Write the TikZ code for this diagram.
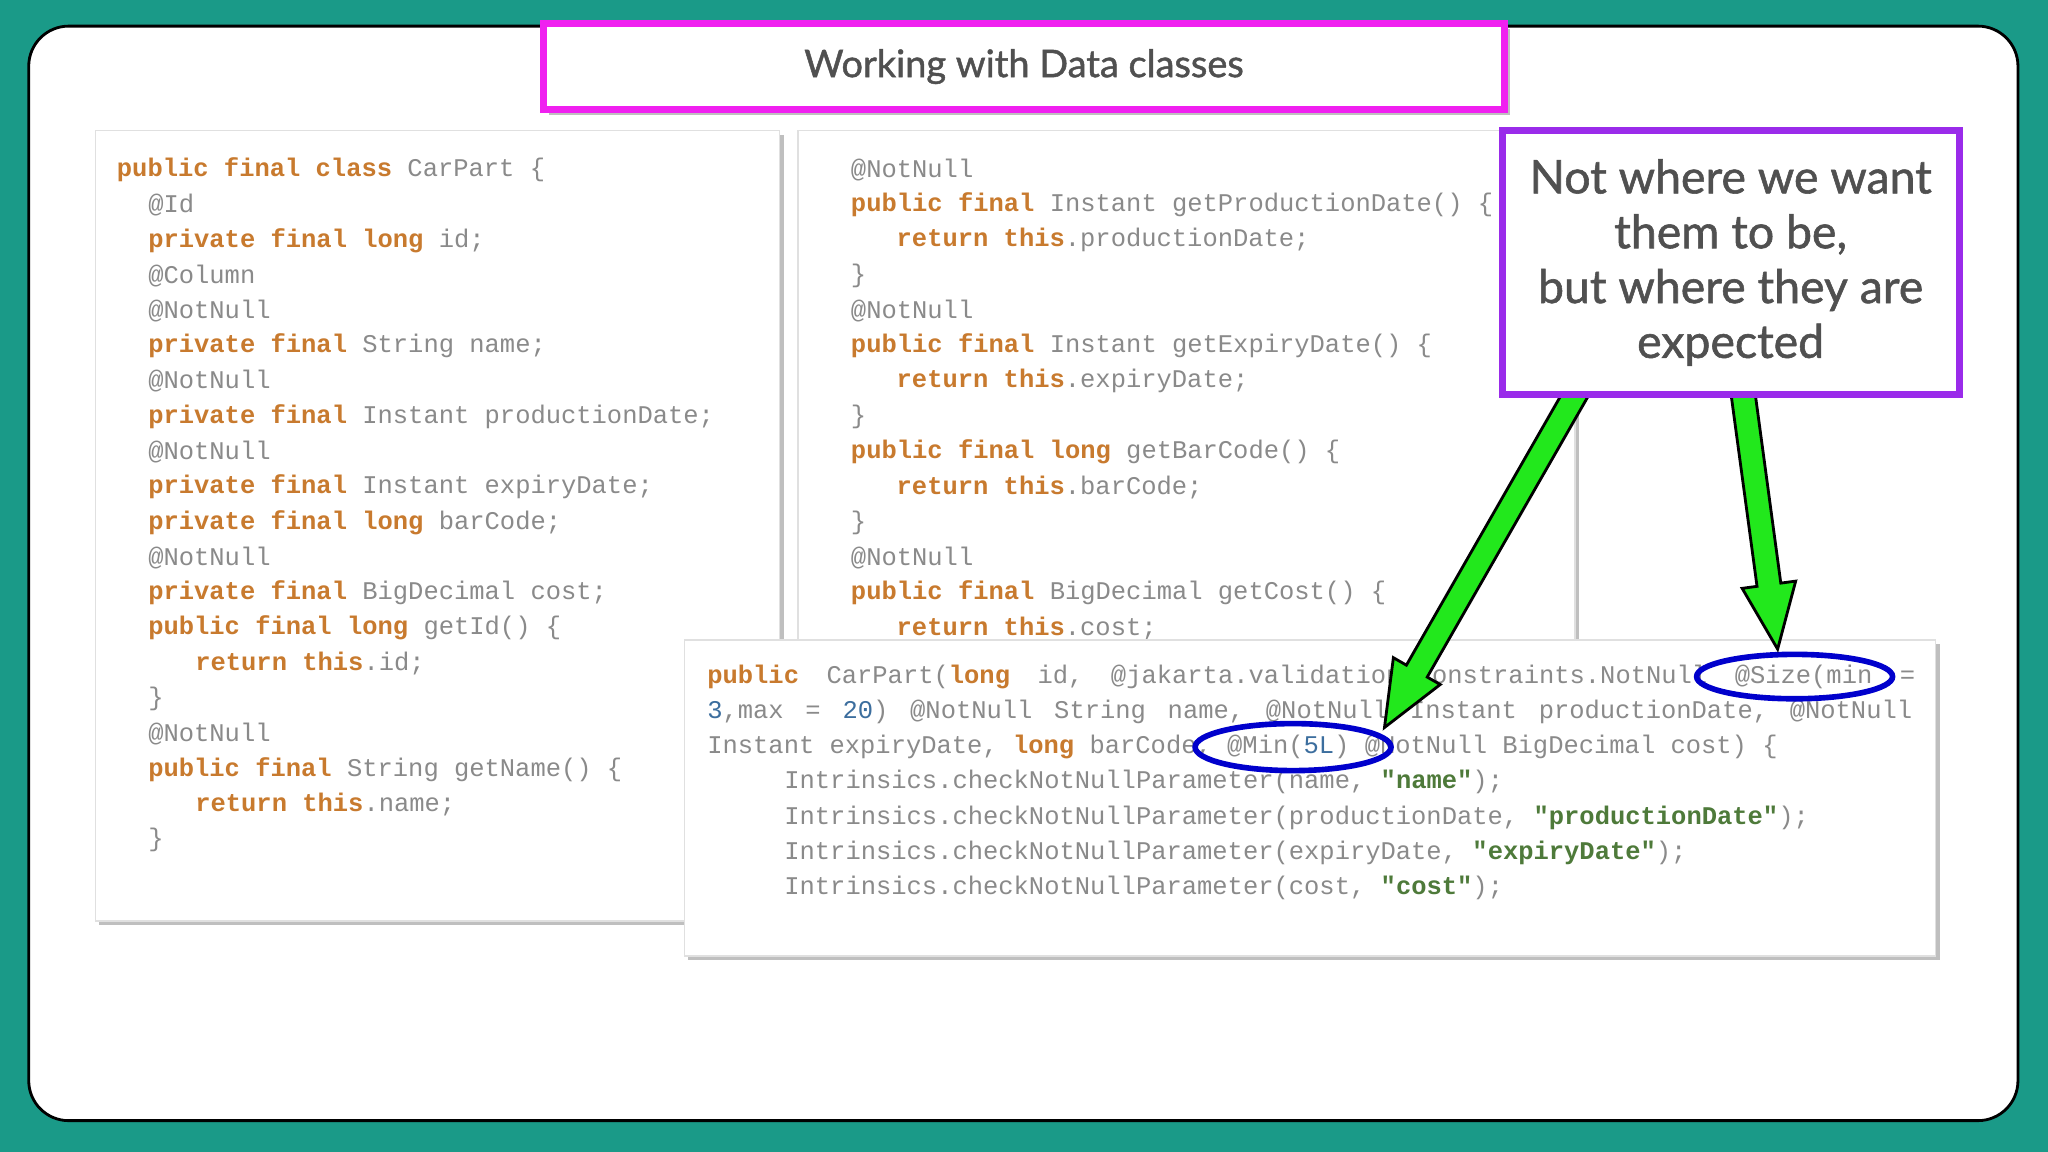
\documentclass[tikz,border=0pt]{standalone}
\usepackage{fontspec}
\setmainfont{Lato}[FakeBold=1.2]
\newfontfamily\codefont{Liberation Mono}
\usetikzlibrary{calc}
\definecolor{teal1}{HTML}{1A9A88}
\definecolor{kwc}{HTML}{C87A2E}
\definecolor{idc}{HTML}{8A8A8A}
\definecolor{strc}{HTML}{4E7A3A}
\definecolor{numc}{HTML}{3C6E9E}
\definecolor{magc}{HTML}{F020F0}
\definecolor{purc}{HTML}{9A2BEA}
\definecolor{grn}{HTML}{22E81C}
\definecolor{txtc}{HTML}{505050}
\newcommand{\kw}[1]{\textcolor{kwc}{\textbf{#1}}}
\newcommand{\nm}[1]{\textcolor{numc}{#1}}
\newcommand{\st}[1]{\textcolor{strc}{\textbf{#1}}}
\tikzset{
 codeln/.style={anchor=west,inner sep=0pt,font=\codefont\fontsize{7.25}{8}\selectfont,text=idc},
 panel/.style={fill=white,draw=black!12},
 shadowbox/.style={fill=black!25},
 ring/.style={draw=blue!80!black,line width=1.6pt},
 fat/.style={fill=grn,draw=black,line width=0.8pt,line join=miter}
}
\newcommand{\fatarrow}[3]{% from, to, name
 \coordinate (#3h) at ($(#2)!0.65cm!(#1)$);
 \draw[fat] ($(#1)!0.12cm!90:(#2)$) -- ($(#3h)!0.12cm!-90:(#1)$) -- ($(#3h)!0.27cm!-90:(#1)$) -- (#2)
   -- ($(#3h)!0.27cm!90:(#1)$) -- ($(#3h)!0.12cm!90:(#1)$) -- ($(#1)!0.12cm!-90:(#2)$) -- cycle;
}
\begin{document}
\begin{tikzpicture}[x=0.01306cm,y=-0.01306cm]
\fill[teal1] (0,0) rectangle (1568,882);
\draw[fill=white,rounded corners=0.4cm,line width=0.8pt] (22,20) rectangle (1545,858);
% title
\fill[shadowbox] (420,22) rectangle (1156,88);
\node[draw=magc,line width=2pt,fill=white,minimum width=9.61cm,minimum height=0.86cm,inner sep=0pt,font=\fontsize{10.8}{12}\selectfont,text=txtc] (title) at (784,51) {Working with Data classes};
% left panel
\fill[shadowbox] (76,103) rectangle (600,708);
\draw[panel] (73,100) rectangle (597,705);
\foreach \i/\x/\t in {0/89/{\kw{public final class} CarPart \{},1/113/{@Id},2/113/{\kw{private final long} id;},3/113/{@Column},4/113/{@NotNull},5/113/{\kw{private final} String name;},6/113/{@NotNull},7/113/{\kw{private final} Instant productionDate;},8/113/{@NotNull},9/113/{\kw{private final} Instant expiryDate;},10/113/{\kw{private final long} barCode;},11/113/{@NotNull},12/113/{\kw{private final} BigDecimal cost;},13/113/{\kw{public final long} getId() \{},14/149/{\kw{return this}.id;},15/113/{\}},16/113/{@NotNull},17/113/{\kw{public final} String getName() \{},18/149/{\kw{return this}.name;},19/113/{\}}}
  \node[codeln] (l\i) at (\x,130+27*\i) {\t};
% middle panel
\fill[shadowbox] (614,103) rectangle (1209,500);
\draw[panel] (611,100) rectangle (1206,500);
\foreach \i/\x/\t in {0/651/{@NotNull},1/651/{\kw{public final} Instant getProductionDate() \{},2/686/{\kw{return this}.productionDate;},3/651/{\}},4/651/{@NotNull},5/651/{\kw{public final} Instant getExpiryDate() \{},6/686/{\kw{return this}.expiryDate;},7/651/{\}},8/651/{\kw{public final long} getBarCode() \{},9/686/{\kw{return this}.barCode;},10/651/{\}},11/651/{@NotNull},12/651/{\kw{public final} BigDecimal getCost() \{},13/686/{\kw{return this}.cost;}}
  \node[codeln] (m\i) at (\x,130+27*\i) {\t};
% bottom panel
\fill[shadowbox] (527,493) rectangle (1485,735);
\draw[panel] (524,490) rectangle (1482,732);
\node[codeln] (b0) at (541,518) {\makebox[12.08cm][l]{\kw{public}\hfill CarPart(\kw{long}\hfill id,\hfill @jakarta.validation.constraints.NotNull\hfill @Size(min\hfill =}};
\node[codeln] (b1) at (541,545) {\makebox[12.05cm][l]{\nm{3},max\hfill =\hfill \nm{20})\hfill @NotNull\hfill String\hfill name,\hfill @NotNull\hfill Instant\hfill productionDate,\hfill @NotNull}};
\node[codeln] (b2) at (541,572) {Instant expiryDate, \kw{long} barCode, @Min(\nm{5L}) @NotNull BigDecimal cost) \{};
\node[codeln] (b3) at (600,599) {Intrinsics.checkNotNullParameter(name, \st{"name"});};
\node[codeln] (b4) at (600,626) {Intrinsics.checkNotNullParameter(productionDate, \st{"productionDate"});};
\node[codeln] (b5) at (600,653) {Intrinsics.checkNotNullParameter(expiryDate, \st{"expiryDate"});};
\node[codeln] (b6) at (600,680) {Intrinsics.checkNotNullParameter(cost, \st{"cost"});};
% rings
\draw[ring] (1374,518) ellipse (75 and 17);
\draw[ring] (990,572) ellipse (75 and 18);
% arrows
\coordinate (a1s) at (1213,290);
\coordinate (a1e) at (1060,557);
\coordinate (a2s) at (1333,290);
\coordinate (a2e) at (1361,497);
\fatarrow{a1s}{a1e}{a1}
\fatarrow{a2s}{a2e}{a2}
% callout
\fill[shadowbox] (1153,103) rectangle (1503,305);
\node[draw=purc,line width=2pt,fill=white,minimum width=4.57cm,minimum height=2.64cm,inner sep=0pt,align=center,font=\fontsize{13.2}{15.6}\selectfont,text=txtc] (call) at (1325,201) {Not where we want\\them to be,\\but where they are\\expected};
\end{tikzpicture}
\end{document}
